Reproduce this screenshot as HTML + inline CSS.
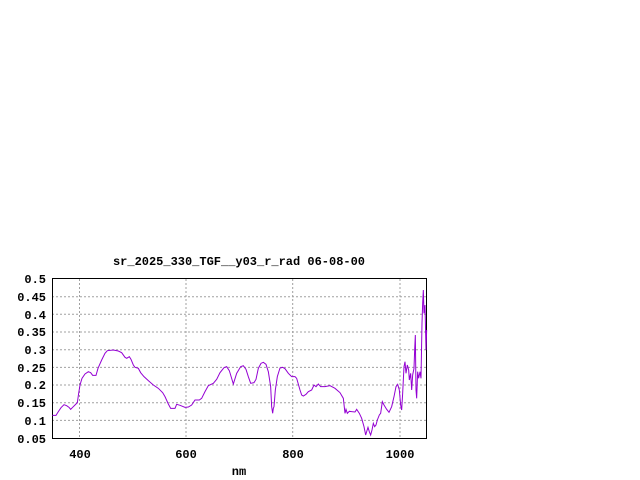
<!DOCTYPE html>
<html><head><style>
html,body{margin:0;padding:0;background:#fff;}
svg{display:block;}
text{font-family:"Liberation Mono",monospace;font-size:12px;font-weight:bold;fill:#000;}
</style></head><body>
<svg width="640" height="480" viewBox="0 0 640 480">
<rect width="640" height="480" fill="#fff"/>
<g stroke="#a0a0a0" stroke-width="1" stroke-dasharray="2,2">
<line x1="52" x2="426" y1="296.7" y2="296.7"/>
<line x1="52" x2="426" y1="314.3" y2="314.3"/>
<line x1="52" x2="426" y1="332" y2="332"/>
<line x1="52" x2="426" y1="349.7" y2="349.7"/>
<line x1="52" x2="426" y1="367.4" y2="367.4"/>
<line x1="52" x2="426" y1="385" y2="385"/>
<line x1="52" x2="426" y1="402.7" y2="402.7"/>
<line x1="52" x2="426" y1="420.4" y2="420.4"/>
<line x1="79.5" x2="79.5" y1="279" y2="438"/>
<line x1="186" x2="186" y1="279" y2="438"/>
<line x1="292.7" x2="292.7" y1="279" y2="438"/>
<line x1="400" x2="400" y1="279" y2="438"/>
</g>
<rect x="52.5" y="278.5" width="374" height="160" fill="none" stroke="#000" stroke-width="1"/>
<g transform="translate(0,250) scale(0.33333)">
<polyline fill="none" stroke="#9400d3" stroke-width="3" points="157,496 168,496 175,485 183,473 192,464 200,467 207,472 212,478 218,472 225,465 232,458 236,430 240,405 246,385 255,372 265,365 272,368 278,376 288,376 294,355 305,330 315,310 322,302 340,300 355,303 365,308 375,322 380,325 388,320 393,328 400,345 405,352 415,355 422,368 432,380 445,392 460,405 475,415 488,428 495,440 505,462 512,475 525,475 530,463 540,466 555,472 565,471 575,465 585,450 598,450 605,445 615,425 625,407 640,400 650,388 660,368 672,353 680,350 688,362 700,402 710,370 722,350 730,347 738,358 745,380 752,400 762,398 768,388 775,355 783,340 790,337 798,343 805,365 812,410 815,470 818,490 820,475 822,470 826,420 832,380 840,354 848,352 855,356 865,370 875,380 885,380 890,385 900,420 905,435 910,438 918,433 925,425 935,420 942,405 948,410 955,402 962,410 975,410 990,407 1005,415 1020,428 1030,445 1035,490 1038,478 1042,490 1048,484 1055,485 1065,486 1070,478 1078,490 1085,505 1092,530 1097,555 1100,545 1104,532 1108,545 1112,555 1116,540 1120,520 1124,530 1128,525 1132,510 1138,495 1142,490 1147,455 1152,465 1160,478 1167,487 1175,470 1182,440 1188,410 1193,403 1198,420 1202,465 1205,480 1208,430 1212,350 1215,335 1218,370 1222,345 1226,360 1228,390 1232,370 1235,420 1238,375 1242,355 1244,300 1246,255 1248,420 1250,445 1253,365 1256,385 1260,365 1263,385 1266,220 1268,160 1270,120 1272,190 1275,165 1278,300 1280,240"/>
</g>
<text x="239" y="265" text-anchor="middle">sr_2025_330_TGF__y03_r_rad 06-08-00</text>
<g text-anchor="end">
<text x="46" y="283">0.5</text>
<text x="46" y="301">0.45</text>
<text x="46" y="319">0.4</text>
<text x="46" y="336">0.35</text>
<text x="46" y="354">0.3</text>
<text x="46" y="372">0.25</text>
<text x="46" y="389">0.2</text>
<text x="46" y="407">0.15</text>
<text x="46" y="425">0.1</text>
<text x="46" y="443">0.05</text>
</g>
<g text-anchor="middle">
<text x="80" y="458">400</text>
<text x="186" y="458">600</text>
<text x="293" y="458">800</text>
<text x="400" y="458">1000</text>
<text x="239" y="475">nm</text>
</g>
</svg>
</body></html>
